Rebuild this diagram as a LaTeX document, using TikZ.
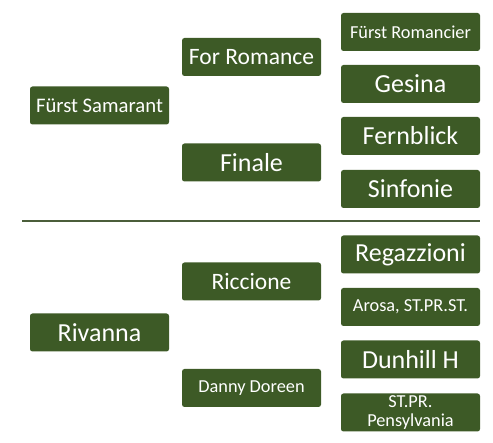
\documentclass[tikz,border=0pt]{standalone}
\usepackage{fontspec}
\setmainfont{Carlito}
\definecolor{boxgreen}{HTML}{3D5A26}
\definecolor{linegreen}{HTML}{4B5E3A}
\tikzset{
  gbox/.style={fill=boxgreen, text=white, rounded corners=2.5pt, minimum width=139pt, minimum height=38pt, inner sep=0pt, align=center, anchor=center},
  fbig/.style={font=\fontsize{26}{28}\selectfont},
  fmid/.style={font=\fontsize{23.5}{26}\selectfont},
  fsam/.style={font=\fontsize{20.7}{23}\selectfont},
  fsmall/.style={font=\fontsize{18.3}{18.5}\selectfont},
}
\begin{document}
\begin{tikzpicture}[x=1pt,y=-1pt]
\useasboundingbox (0,0) rectangle (493,443);
% top group
\node[gbox,fsam] (fs) at (99.5,105.5) {Fürst Samarant};
\node[gbox,fmid] (forrom) at (251.5,57) {For Romance};
\node[gbox,fbig] (finale) at (251.5,162.5) {Finale};
\node[gbox,fsmall] (fromancier) at (410.5,32) {Fürst Romancier};
\node[gbox,fbig] (gesina) at (410.5,84) {Gesina};
\node[gbox,fbig] (fernblick) at (410.5,136) {Fernblick};
\node[gbox,fbig] (sinfonie) at (410.5,189) {Sinfonie};
% separator
\coordinate (sepL) at (22,221);
\coordinate (sepR) at (480,221);
\draw[linegreen, line width=2pt] (sepL) -- (sepR);
% bottom group
\node[gbox,fbig] (rivanna) at (99.5,332.5) {Rivanna};
\node[gbox,fmid] (riccione) at (251.5,281.5) {Riccione};
\node[gbox,fsmall] (danny) at (251.5,388) {Danny Doreen};
\node[gbox,fbig] (regazzioni) at (410.5,254.5) {Regazzioni};
\node[gbox,fsmall] (arosa) at (410.5,307) {Arosa, ST.PR.ST.};
\node[gbox,fbig] (dunhill) at (410.5,359.5) {Dunhill H};
\node[gbox,fsmall] (stpr) at (410.5,412.5) {ST.PR.\\Pensylvania};
\end{tikzpicture}
\end{document}
